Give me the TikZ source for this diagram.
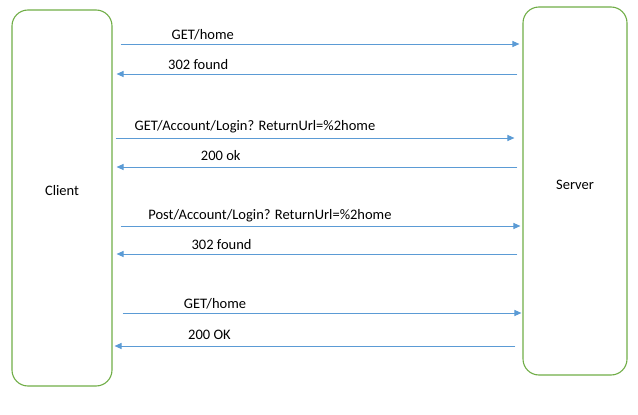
\documentclass[tikz,border=0pt]{standalone}
\usepackage{fontspec}
\setmainfont{Carlito}
\usetikzlibrary{arrows.meta}
\definecolor{msgblue}{HTML}{5B9BD5}
\definecolor{boxgreen}{HTML}{70AD47}
\begin{document}
\begin{tikzpicture}[x=1pt,y=-1pt,line join=round,>={Triangle[length=7pt,width=6pt]}]
	\tikzset{every node/.style={font=\fontsize{14.5}{17}\selectfont},
		party/.style={draw=boxgreen,line width=1.1pt,rounded corners=16pt,minimum width=100pt},
		req/.style={draw=msgblue,line width=1pt,->,shorten <=8pt,shorten >=3pt},
		resp/.style={draw=msgblue,line width=1pt,->,shorten <=5pt,shorten >=4pt},
		txt/.style={anchor=base,yshift=5pt,inner sep=0pt}}
	\useasboundingbox (0,0) rectangle (638,415);
	\node[party,minimum height=376pt] (client) at (62,198) {};
	\node[party,minimum width=104pt,minimum height=368pt] (server) at (575,191) {};
	\node (clientname) at ([yshift=7pt]client.center) {Client};
	\node (servername) at ([yshift=6pt]server.center) {Server};
	% request / response pairs
	\draw[req] (client.east |- 0,44) -- (server.west |- 0,44) node[txt,pos=0.22] (m1) {GET/home};
	\draw[resp] (server.west |- 0,74) -- (client.east |- 0,74) node[txt,pos=0.791] (m2) {302 found};
	\draw[req,shorten <=3pt,shorten >=8pt] (client.east |- 0,138) -- (server.west |- 0,138) node[txt,pos=0.3475,yshift=3pt] (m3) {GET/Account/Login? ReturnUrl=\%2home};
	\draw[resp] (server.west |- 0,167) -- (client.east |- 0,167) node[txt,pos=0.736,yshift=2pt] (m4) {200 ok};
	\draw[req,shorten >=2pt] (client.east |- 0,226) -- (server.west |- 0,226) node[txt,pos=0.384,yshift=2pt] (m5) {Post/Account/Login? ReturnUrl=\%2home};
	\draw[resp] (server.west |- 0,254) -- (client.east |- 0,254) node[txt,pos=0.734] (m6) {302 found};
	\draw[req,shorten <=10pt,shorten >=1pt] (client.east |- 0,313) -- (server.west |- 0,313) node[txt,pos=0.25] (m7) {GET/home};
	\draw[resp,shorten <=7pt,shorten >=2pt] (server.west |- 0,346) -- (client.east |- 0,346) node[txt,pos=0.7637,yshift=2pt] (m8) {200 OK};
\end{tikzpicture}
\end{document}
